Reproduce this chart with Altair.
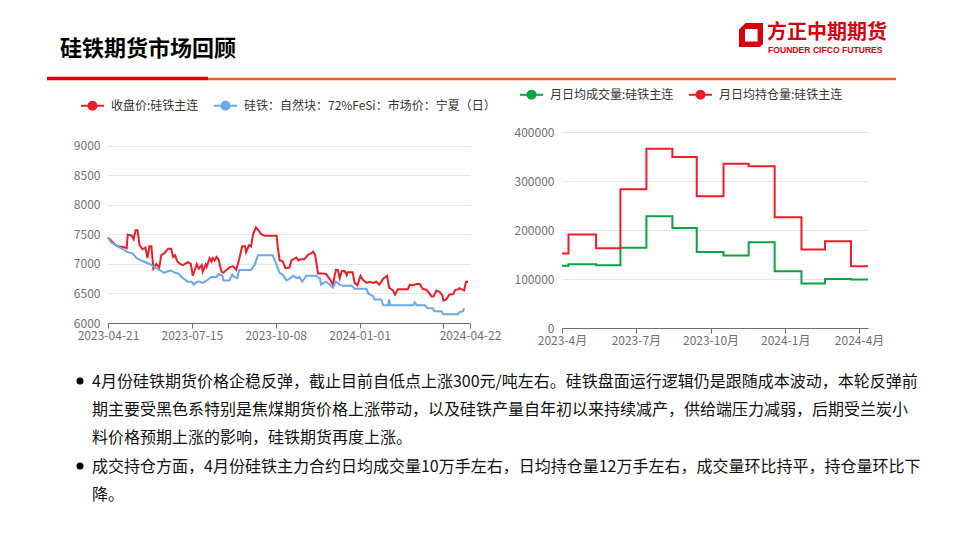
import altair as alt
import pandas as pd

# ---------------- text ----------------
TITLE = "硅铁期货市场回顾"
LOGO_CN = "方正中期期货"
LOGO_EN = "FOUNDER CIFCO FUTURES"
S_CLOSE = "收盘价:硅铁主连"
S_SPOT = "硅铁：自然块：72%FeSi：市场价：宁夏（日）"
S_VOL = "月日均成交量:硅铁主连"
S_OI = "月日均持仓量:硅铁主连"
PARA1 = [
    "4月份硅铁期货价格企稳反弹，截止目前自低点上涨300元/吨左右。硅铁盘面运行逻辑仍是跟随成本波动，本轮反弹前",
    "期主要受黑色系特别是焦煤期货价格上涨带动，以及硅铁产量自年初以来持续减产，供给端压力减弱，后期受兰炭小",
    "料价格预期上涨的影响，硅铁期货再度上涨。",
]
PARA2 = [
    "成交持仓方面，4月份硅铁主力合约日均成交量10万手左右，日均持仓量12万手左右，成交量环比持平，持仓量环比下",
    "降。",
]

# ---------------- left chart data ----------------
close_dates = ["2023/04/21","2023/04/24","2023/04/28","2023/05/01","2023/05/06","2023/05/10","2023/05/11","2023/05/15","2023/05/17","2023/05/19","2023/05/21","2023/05/23","2023/05/26","2023/05/29","2023/05/31","2023/06/02","2023/06/04","2023/06/06","2023/06/09","2023/06/12","2023/06/14","2023/06/17","2023/06/21","2023/06/24","2023/06/26","2023/06/28","2023/06/30","2023/07/03","2023/07/06","2023/07/11","2023/07/14","2023/07/16","2023/07/20","2023/07/22","2023/07/25","2023/07/26","2023/07/29","2023/07/30","2023/08/02","2023/08/04","2023/08/05","2023/08/07","2023/08/09","2023/08/11","2023/08/14","2023/08/16","2023/08/19","2023/08/23","2023/08/26","2023/08/29","2023/09/01","2023/09/04","2023/09/07","2023/09/08","2023/09/11","2023/09/13","2023/09/15","2023/09/18","2023/09/21","2023/09/23","2023/09/27","2023/10/02","2023/10/09","2023/10/10","2023/10/12","2023/10/15","2023/10/18","2023/10/22","2023/10/24","2023/10/29","2023/10/31","2023/11/02","2023/11/06","2023/11/10","2023/11/13","2023/11/15","2023/11/17","2023/11/20","2023/11/25","2023/11/28","2023/12/02","2023/12/05","2023/12/08","2023/12/10","2023/12/12","2023/12/14","2023/12/17","2023/12/19","2023/12/20","2023/12/25","2023/12/27","2023/12/30","2024/01/02","2024/01/04","2024/01/08","2024/01/11","2024/01/15","2024/01/18","2024/01/21","2024/01/25","2024/01/29","2024/01/31","2024/02/04","2024/02/06","2024/02/09","2024/02/14","2024/02/19","2024/02/21","2024/02/24","2024/02/28","2024/03/02","2024/03/05","2024/03/09","2024/03/11","2024/03/14","2024/03/16","2024/03/19","2024/03/22","2024/03/25","2024/03/26","2024/03/29","2024/04/01","2024/04/05","2024/04/07","2024/04/10","2024/04/11","2024/04/15","2024/04/16","2024/04/18","2024/04/20"]
close_vals = [7450,7400,7330,7300,7290,7270,7500,7480,7420,7570,7570,7320,7250,7280,7100,7300,7300,6920,7000,6940,7150,7180,7260,7260,7120,7150,7050,7000,6980,7030,7000,6800,7000,6920,6980,6870,6990,6950,7100,7040,7100,7060,7120,7080,6870,6850,6900,6950,6960,6900,7080,7300,7300,7200,7320,7300,7500,7620,7560,7510,7480,7480,7480,7300,7060,7050,6930,6940,7060,7110,7060,7080,7080,7160,7180,7210,7150,6840,6840,6830,6740,6650,6900,6900,6760,6880,6880,6810,6860,6860,6680,6640,6800,6740,6680,6700,6680,6700,6650,6750,6800,6600,6550,6480,6570,6570,6570,6650,6640,6660,6660,6580,6560,6520,6450,6450,6550,6530,6470,6380,6400,6480,6490,6560,6570,6590,6560,6550,6700,6700]

spot_dates = ["2023/04/21","2023/04/24","2023/04/29","2023/05/05","2023/05/08","2023/05/11","2023/05/16","2023/05/20","2023/05/26","2023/06/02","2023/06/07","2023/06/12","2023/06/17","2023/06/19","2023/06/24","2023/06/28","2023/07/01","2023/07/06","2023/07/11","2023/07/15","2023/07/17","2023/07/20","2023/07/23","2023/07/26","2023/07/30","2023/08/04","2023/08/09","2023/08/11","2023/08/15","2023/08/16","2023/08/22","2023/08/25","2023/08/27","2023/08/30","2023/09/01","2023/09/13","2023/09/17","2023/09/20","2023/10/05","2023/10/09","2023/10/12","2023/10/15","2023/10/19","2023/10/22","2023/10/26","2023/10/29","2023/11/01","2023/11/04","2023/11/08","2023/11/18","2023/11/22","2023/11/23","2023/11/28","2023/12/02","2023/12/05","2023/12/08","2023/12/12","2023/12/15","2023/12/24","2023/12/27","2024/01/08","2024/01/10","2024/01/15","2024/01/16","2024/01/23","2024/01/25","2024/01/30","2024/01/31","2024/02/01","2024/02/24","2024/02/26","2024/02/28","2024/03/07","2024/03/10","2024/03/15","2024/03/17","2024/03/24","2024/03/26","2024/04/10","2024/04/11","2024/04/15","2024/04/16"]
spot_vals = [7450,7370,7320,7260,7230,7200,7180,7100,7050,7000,6950,6900,6850,6870,6890,6850,6840,6760,6700,6700,6650,6700,6700,6680,6720,6780,6780,6830,6800,6720,6720,6820,6780,6760,6900,6900,7000,7150,7150,6980,6850,6820,6720,6750,6800,6760,6780,6700,6800,6800,6750,6650,6700,6650,6600,6700,6650,6630,6630,6580,6580,6500,6450,6400,6400,6300,6300,6400,6300,6300,6350,6300,6300,6250,6250,6200,6200,6150,6150,6180,6200,6250]

left_x_domain = ["2023/04/21", "2024/04/22"]
left_x_ticks = ["2023/04/21", "2023/07/15", "2023/10/08", "2024/01/01", "2024/03/26", "2024/04/22"]
left_x_hidden = "2024-03-26"
left_y_ticks = [6000, 6500, 7000, 7500, 8000, 8500, 9000]
left_y_domain = [6000, 9237]

# ---------------- right chart data ----------------
month_dates = ["2023/04/01","2023/04/09","2023/05/13","2023/06/12","2023/07/14","2023/08/15","2023/09/14","2023/10/17","2023/11/17","2023/12/19","2024/01/21","2024/02/19","2024/03/22","2024/04/12"]
vol_vals = [127000,130000,128000,164000,228000,204000,155000,148000,175000,116000,91000,100000,99000,99000]
oi_vals = [152000,191000,163000,283000,366000,349000,269000,335000,330000,226000,160000,177000,126000,126000]
right_x_domain = ["2023/04/01", "2024/04/12"]
right_x_ticks = ["2023/04/01", "2023/07/01", "2023/10/01", "2024/01/01", "2024/04/01"]
right_y_ticks = [0, 100000, 200000, 300000, 400000]

assert len(close_dates) == len(close_vals)
assert len(spot_dates) == len(spot_vals)

# ---------------- styles ----------------
RED = "#EE1D2A"
BLUE = "#6AA8E6"
GREEN = "#0BA443"
LOGO_RED = "#D7000F"
ORANGE = "#F05A22"
AX = "#6E7079"
GRID = "#E0E6F1"
FONT = "Noto Sans CJK SC"


def dt(s):
    t = pd.Timestamp(s.replace("/", "-"))
    return alt.DateTime(year=t.year, month=t.month, date=t.day)


def circ(r):
    return f"M{-r},0A{r},{r} 0 1,0 {r},0A{r},{r} 0 1,0 {-r},0"


LEG_PATH = "M-1,0L1,0" + "".join(circ(r) for r in [0.35, 0.26, 0.17, 0.09])
ICON_PATH = ("M-0.45,-1L1,-1L1,0.75L0.75,1L-1,1L-1,-0.45Z"
             "M-0.5,-0.5L-0.5,0.55L0.55,0.55L0.55,-0.5Z")

one = pd.DataFrame({"k": [0]})

# ---------------- left chart ----------------
left_df = pd.concat([
    pd.DataFrame({"date": close_dates, "value": close_vals, "series": S_CLOSE}),
    pd.DataFrame({"date": spot_dates, "value": spot_vals, "series": S_SPOT}),
])

left_lines = alt.Chart(left_df).mark_line(strokeWidth=2).encode(
    x=alt.X("date:T",
            scale=alt.Scale(domain=[dt(d) for d in left_x_domain], nice=False),
            axis=alt.Axis(values=[dt(d) for d in left_x_ticks],
                          labelExpr=f"timeFormat(datum.value, '%Y-%m-%d') == '{left_x_hidden}' ? '' : timeFormat(datum.value, '%Y-%m-%d')",
                          title=None, grid=False, domainColor=AX, tickColor=AX, tickSize=5,
                          labelColor=AX, labelFontSize=12, labelPadding=2,
                          labelOverlap=False, labelFlush=False, labelFont=FONT)),
    y=alt.Y("value:Q",
            scale=alt.Scale(domain=left_y_domain, nice=False, zero=False),
            axis=alt.Axis(values=left_y_ticks, format="d", title=None, domain=False, ticks=False,
                          gridColor=GRID, labelColor=AX, labelFontSize=12, labelPadding=8,
                          labelFont=FONT)),
    color=alt.Color("series:N",
                    scale=alt.Scale(domain=[S_CLOSE, S_SPOT], range=[RED, BLUE]),
                    legend=alt.Legend(orient="none", legendX=-28, legendY=-39, direction="horizontal",
                                      title=None, symbolType=LEG_PATH, symbolSize=529,
                                      symbolStrokeWidth=2, labelFontSize=12, labelColor="#333",
                                      labelFont=FONT, labelOffset=6, columnPadding=11,
                                      labelLimit=400)),
    order=alt.Order("date:T"),
)

anchor = alt.Chart(one).mark_rect(opacity=0).encode(
    x=alt.value(-100), x2=alt.value(844), y=alt.value(-124), y2=alt.value(400))

title = alt.Chart(one).mark_text(align="left", baseline="middle", fontSize=22, fontWeight="bold",
                                 font=FONT, color="#000").encode(
    x=alt.value(-48), y=alt.value(-83), text=alt.value(TITLE))

icon = alt.Chart(one).mark_point(shape=ICON_PATH, filled=True, size=576, color=LOGO_RED,
                                 opacity=1, strokeWidth=0).encode(
    x=alt.value(643), y=alt.value(-97))

logo_cn = alt.Chart(one).mark_text(align="left", baseline="middle", fontSize=20, fontWeight="bold",
                                   font=FONT, color=LOGO_RED).encode(
    x=alt.value(659), y=alt.value(-99), text=alt.value(LOGO_CN))

logo_en = alt.Chart(one).mark_text(align="left", baseline="middle", fontSize=8.6, fontWeight="bold",
                                   font="Liberation Sans", color=LOGO_RED).encode(
    x=alt.value(660), y=alt.value(-82.5), text=alt.value(LOGO_EN))

sep_red = alt.Chart(one).mark_rule(strokeWidth=3.5, color=LOGO_RED).encode(
    x=alt.value(-61), x2=alt.value(100), y=alt.value(-53.5))
sep_orange = alt.Chart(one).mark_rule(strokeWidth=2.5, color=ORANGE).encode(
    x=alt.value(100), x2=alt.value(788), y=alt.value(-53))

bullet1 = alt.Chart(one).mark_point(shape="circle", filled=True, size=50, color="#000", opacity=1).encode(
    x=alt.value(-28), y=alt.value(249))
bullet2 = alt.Chart(one).mark_point(shape="circle", filled=True, size=50, color="#000", opacity=1).encode(
    x=alt.value(-28), y=alt.value(334))

para1 = alt.Chart(one).mark_text(align="left", baseline="alphabetic", fontSize=16, lineHeight=28,
                                 font=FONT, color="#111").encode(
    x=alt.value(-16), y=alt.value(255), text=alt.value(PARA1))
para2 = alt.Chart(one).mark_text(align="left", baseline="alphabetic", fontSize=16, lineHeight=28,
                                 font=FONT, color="#111").encode(
    x=alt.value(-16), y=alt.value(340), text=alt.value(PARA2))

left = alt.layer(anchor, left_lines, title, icon, logo_cn, logo_en, sep_red, sep_orange,
                 bullet1, bullet2, para1, para2).properties(width=362, height=191)

# ---------------- right chart ----------------
right_df = pd.concat([
    pd.DataFrame({"date": month_dates, "value": vol_vals, "series": S_VOL}),
    pd.DataFrame({"date": month_dates, "value": oi_vals, "series": S_OI}),
])

right = alt.Chart(right_df).mark_line(strokeWidth=2, interpolate="step-after").encode(
    x=alt.X("date:T",
            scale=alt.Scale(domain=[dt(d) for d in right_x_domain], nice=False),
            axis=alt.Axis(values=[dt(d) for d in right_x_ticks],
                          labelExpr="timeFormat(datum.value, '%Y') + '-' + (month(datum.value) + 1) + '月'",
                          title=None, grid=False, domainColor=AX, tickColor=AX, tickSize=5,
                          labelColor=AX, labelFontSize=12, labelPadding=2,
                          labelOverlap=False, labelFlush=False, labelFont=FONT)),
    y=alt.Y("value:Q",
            scale=alt.Scale(domain=[0, 400000], nice=False),
            axis=alt.Axis(values=right_y_ticks, format="d", title=None, domain=False, ticks=False,
                          gridColor=GRID, labelColor=AX, labelFontSize=12, labelPadding=8,
                          labelFont=FONT)),
    color=alt.Color("series:N",
                    scale=alt.Scale(domain=[S_VOL, S_OI], range=[GREEN, RED]),
                    legend=alt.Legend(orient="none", legendX=-43, legendY=-50, direction="horizontal",
                                      title=None, symbolType=LEG_PATH, symbolSize=529,
                                      symbolStrokeWidth=2, labelFontSize=12, labelColor="#333",
                                      labelFont=FONT, labelOffset=6, columnPadding=11,
                                      labelLimit=400)),
    order=alt.Order("date:T"),
).properties(width=306, height=196)

chart = alt.hconcat(left, right, spacing=92, bounds="flush", padding=0).resolve_scale(
    color="independent", x="independent", y="independent"
).resolve_legend(color="independent").configure(font=FONT).configure_view(stroke=None)

chart.save("out.html", embed_options={"renderer": "svg", "actions": False})
